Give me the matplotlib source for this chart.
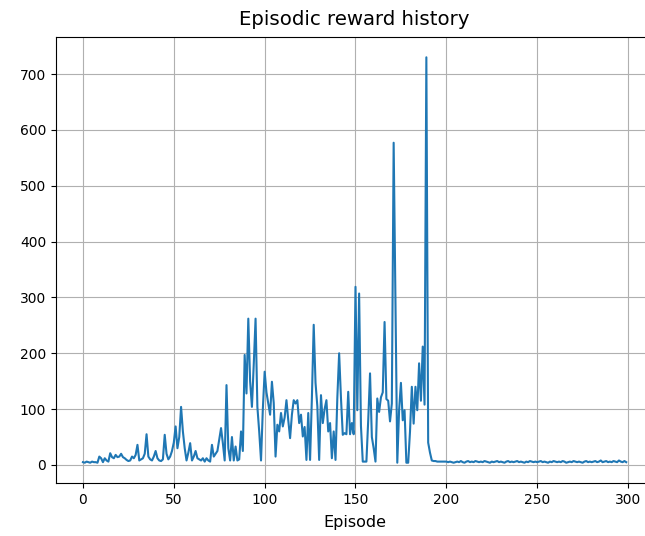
import matplotlib
matplotlib.use("Agg")
import matplotlib.pyplot as plt

# rewards per episode
rewards_0_49 = [5, 4, 6, 5, 4, 6, 5, 5, 4, 15,
                12, 5, 12, 8, 6, 21, 14, 12, 18, 14,
                15, 20, 14, 12, 9, 7, 8, 15, 12, 18,
                36, 8, 10, 12, 20, 55, 15, 10, 8, 15,
                25, 12, 8, 7, 10, 54, 20, 10, 15, 25]
rewards_50_99 = [40, 69, 30, 50, 104, 60, 30, 8, 22, 39,
                 8, 15, 25, 12, 10, 8, 12, 6, 12, 8,
                 6, 36, 15, 20, 25, 45, 66, 39, 8, 143,
                 30, 8, 50, 8, 33, 8, 10, 60, 25, 197,
                 128, 262, 150, 104, 180, 262, 104, 60, 8, 100]
rewards_100_149 = [167, 130, 110, 90, 149, 111, 15, 72, 60, 93,
                   69, 85, 116, 80, 48, 90, 116, 110, 116, 75,
                   90, 51, 68, 9, 93, 9, 120, 251, 147, 105,
                   9, 125, 75, 100, 116, 60, 75, 12, 60, 9,
                   120, 200, 120, 54, 57, 55, 131, 55, 75, 55]
rewards_150_199 = [319, 98, 307, 70, 6, 6, 6, 80, 164, 50,
                   30, 6, 119, 95, 121, 130, 256, 118, 115, 78,
                   110, 577, 290, 4, 98, 147, 80, 98, 4, 4,
                   60, 140, 74, 140, 98, 182, 115, 212, 108, 730,
                   40, 22, 8, 7, 7, 6, 6, 6, 6, 6]
rewards_200_249 = [6, 5, 6, 5, 4, 5, 6, 5, 7, 5,
                   4, 6, 7, 5, 6, 5, 7, 6, 5, 6,
                   5, 7, 6, 5, 4, 6, 5, 6, 7, 5,
                   6, 5, 4, 6, 7, 5, 6, 5, 6, 7,
                   5, 6, 5, 4, 6, 5, 7, 6, 5, 6]
rewards_250_299 = [5, 6, 7, 5, 6, 5, 4, 6, 5, 7,
                   6, 5, 6, 5, 7, 6, 4, 5, 6, 5,
                   7, 6, 5, 6, 5, 4, 6, 7, 5, 6,
                   5, 6, 7, 5, 6, 8, 5, 6, 7, 5,
                   6, 5, 7, 6, 5, 8, 6, 5, 7, 5]

rewards = (rewards_0_49 + rewards_50_99 + rewards_100_149
           + rewards_150_199 + rewards_200_249 + rewards_250_299)
episodes = list(range(len(rewards)))

fig = plt.figure(figsize=(6.45, 5.36), dpi=100)
ax = fig.add_axes([0.0865, 0.0989, 0.9265, 0.832])
ax.plot(episodes, rewards)
ax.set_title("Episodic reward history", fontsize=14.2, pad=9)
ax.set_xlabel("Episode", fontsize=11.5, labelpad=6)
ax.grid(True)

fig.savefig("out.png", dpi=100)
